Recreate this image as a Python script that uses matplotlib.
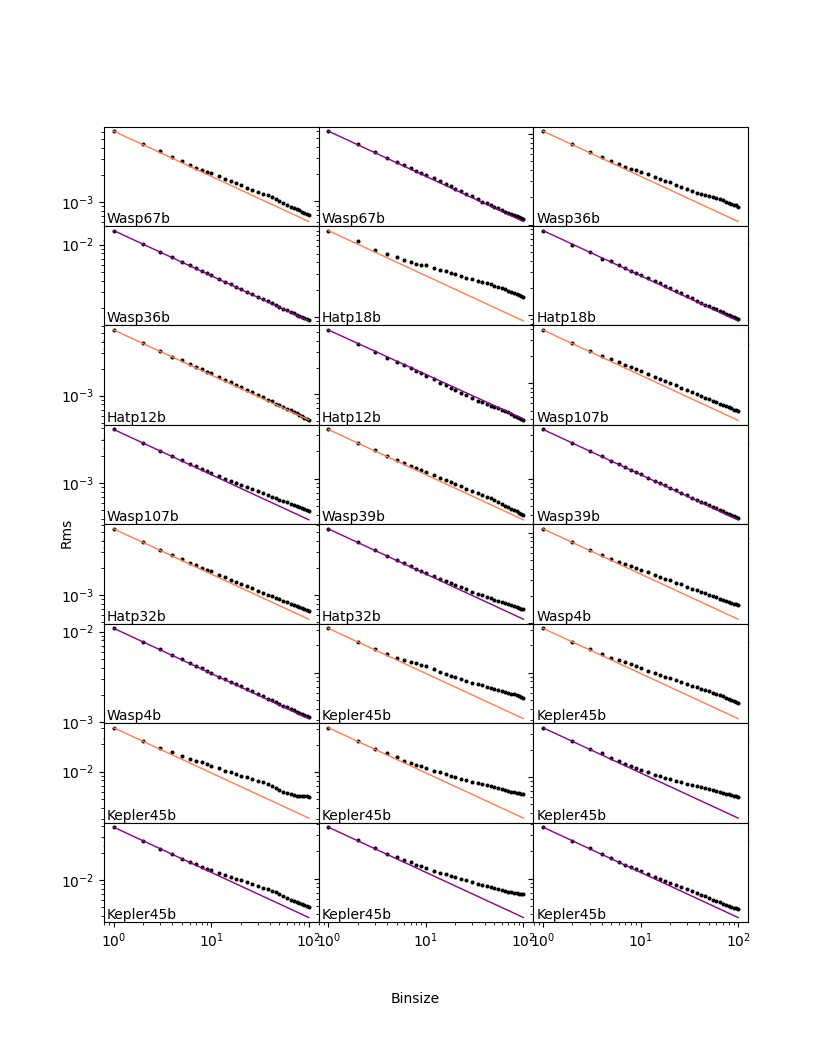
import numpy as np
import matplotlib.pyplot as plt

binsize = [1, 2, 3, 4, 5, 6, 7, 8, 9, 10, 12, 14, 16, 18, 20, 23, 26, 30, 34,
           38, 42, 46, 50, 55, 60, 65, 70, 75, 80, 85, 90, 95, 100]

# measured rms divided by the white-noise expectation (beta), per panel
wasp67b_o = [1.000, 1.021, 1.031, 1.047, 1.047, 1.034, 1.047, 1.058, 1.066, 1.079, 1.093,
             1.113, 1.118, 1.124, 1.127, 1.130, 1.136, 1.150, 1.181, 1.196, 1.196, 1.190,
             1.196, 1.202, 1.190, 1.181, 1.187, 1.178, 1.190, 1.181, 1.184, 1.190, 1.187]
wasp67b_p = [1.000, 1.008, 1.013, 1.018, 1.015, 1.021, 1.026, 1.031, 1.026, 1.034, 1.039,
             1.039, 1.034, 1.042, 1.036, 1.031, 1.026, 1.039, 1.031, 1.026, 1.034, 1.039,
             1.031, 1.042, 1.047, 1.039, 1.052, 1.047, 1.058, 1.052, 1.063, 1.066, 1.068]
wasp36b_o = [1.000, 1.023, 1.015, 1.026, 1.047, 1.047, 1.068, 1.088, 1.104, 1.127, 1.150,
             1.171, 1.193, 1.205, 1.221, 1.230, 1.239, 1.245, 1.264, 1.287, 1.310, 1.337,
             1.364, 1.393, 1.407, 1.421, 1.432, 1.440, 1.447, 1.454, 1.462, 1.466, 1.447]
wasp36b_p = [1.000, 1.008, 1.008, 1.021, 1.013, 1.026, 1.018, 1.015, 1.021, 1.018, 1.015,
             1.021, 1.018, 1.013, 1.021, 1.015, 1.018, 1.013, 1.021, 1.015, 1.018, 1.023,
             1.013, 1.018, 1.015, 1.021, 1.013, 1.018, 1.015, 1.023, 1.013, 1.021, 1.015]
hatp18b_o = [1.000, 1.071, 1.060, 1.093, 1.127, 1.165, 1.196, 1.217, 1.258, 1.300, 1.340,
             1.382, 1.418, 1.447, 1.473, 1.511, 1.542, 1.582, 1.623, 1.657, 1.687, 1.717,
             1.743, 1.770, 1.789, 1.803, 1.812, 1.821, 1.830, 1.839, 1.844, 1.853, 1.858]
hatp18b_p = [1.000, 0.987, 1.000, 0.977, 1.021, 1.013, 1.018, 1.015, 1.026, 1.021, 1.031,
             1.026, 1.039, 1.034, 1.044, 1.039, 1.031, 1.026, 1.034, 1.028, 1.036, 1.031,
             1.039, 1.034, 1.042, 1.036, 1.047, 1.039, 1.050, 1.044, 1.052, 1.047, 1.052]
hatp12b_o = [1.000, 1.013, 1.013, 1.005, 1.026, 1.026, 1.021, 1.031, 1.031, 1.039, 1.039,
             1.047, 1.042, 1.039, 1.047, 1.039, 1.034, 1.042, 1.036, 1.031, 1.039, 1.026,
             1.031, 1.021, 1.031, 1.026, 1.015, 1.021, 1.008, 1.013, 1.000, 1.005, 0.987]
hatp12b_p = [1.000, 0.992, 0.975, 0.970, 0.975, 0.987, 0.980, 0.985, 0.975, 0.970, 0.962,
             0.955, 0.950, 0.945, 0.938, 0.943, 0.936, 0.931, 0.938, 0.945, 0.950, 0.955,
             0.962, 0.975, 0.987, 0.980, 0.992, 0.987, 0.975, 0.970, 0.962, 0.967, 0.962]
wasp107b_o = [1.000, 1.013, 1.026, 1.039, 1.058, 1.074, 1.085, 1.093, 1.104, 1.113, 1.127,
              1.139, 1.147, 1.156, 1.162, 1.168, 1.174, 1.184, 1.193, 1.199, 1.205, 1.211,
              1.214, 1.221, 1.227, 1.230, 1.236, 1.239, 1.245, 1.248, 1.251, 1.258, 1.261]
wasp107b_p = [1.000, 1.000, 1.008, 1.013, 1.021, 1.026, 1.031, 1.039, 1.047, 1.052, 1.060,
              1.068, 1.079, 1.088, 1.093, 1.104, 1.116, 1.130, 1.142, 1.153, 1.162, 1.171,
              1.181, 1.193, 1.205, 1.214, 1.224, 1.233, 1.239, 1.245, 1.251, 1.258, 1.261]
wasp39b_o = [1.000, 1.008, 1.013, 1.026, 1.031, 1.047, 1.052, 1.060, 1.066, 1.074, 1.085,
             1.093, 1.099, 1.107, 1.113, 1.121, 1.130, 1.136, 1.150, 1.165, 1.171, 1.174,
             1.171, 1.165, 1.159, 1.153, 1.150, 1.144, 1.142, 1.142, 1.136, 1.130, 1.136]
wasp39b_p = [1.000, 1.000, 1.005, 1.008, 1.005, 1.010, 1.008, 1.013, 1.010, 1.015, 1.013,
             1.018, 1.013, 1.021, 1.015, 1.021, 1.018, 1.023, 1.026, 1.026, 1.031, 1.028,
             1.034, 1.031, 1.036, 1.039, 1.036, 1.042, 1.044, 1.047, 1.050, 1.055, 1.058]
hatp32b_o = [1.000, 1.008, 1.021, 1.026, 1.034, 1.039, 1.047, 1.052, 1.060, 1.068, 1.079,
             1.088, 1.096, 1.102, 1.107, 1.116, 1.124, 1.136, 1.144, 1.150, 1.159, 1.165,
             1.174, 1.184, 1.193, 1.202, 1.208, 1.214, 1.221, 1.224, 1.227, 1.230, 1.233]
hatp32b_p = [1.000, 1.000, 1.008, 1.005, 1.013, 1.015, 1.021, 1.026, 1.031, 1.034, 1.042,
             1.050, 1.055, 1.063, 1.071, 1.079, 1.090, 1.104, 1.118, 1.133, 1.144, 1.156,
             1.168, 1.184, 1.196, 1.211, 1.224, 1.236, 1.248, 1.258, 1.267, 1.277, 1.283]
wasp4b_o = [1.000, 1.005, 1.013, 1.026, 1.047, 1.066, 1.079, 1.093, 1.107, 1.121, 1.144,
            1.165, 1.181, 1.196, 1.205, 1.221, 1.236, 1.251, 1.267, 1.283, 1.297, 1.310,
            1.324, 1.337, 1.351, 1.364, 1.375, 1.386, 1.400, 1.410, 1.410, 1.421, 1.429]
wasp4b_p = [1.000, 1.005, 1.013, 1.008, 1.015, 1.010, 1.013, 1.018, 1.013, 1.015, 1.010,
            1.021, 1.015, 1.023, 1.026, 1.021, 1.028, 1.023, 1.031, 1.026, 1.034, 1.028,
            1.036, 1.031, 1.039, 1.034, 1.042, 1.036, 1.044, 1.039, 1.042, 1.031, 1.039]
kepler45b_o1 = [1.000, 1.008, 1.018, 1.042, 1.052, 1.088, 1.127, 1.156, 1.174, 1.196, 1.221,
                1.242, 1.258, 1.274, 1.290, 1.317, 1.340, 1.375, 1.410, 1.440, 1.466, 1.488,
                1.511, 1.542, 1.566, 1.590, 1.615, 1.636, 1.657, 1.674, 1.687, 1.700, 1.708]
kepler45b_o2 = [1.000, 1.000, 1.026, 1.044, 1.060, 1.088, 1.116, 1.130, 1.144, 1.159, 1.181,
                1.202, 1.221, 1.236, 1.251, 1.274, 1.297, 1.324, 1.351, 1.375, 1.393, 1.410,
                1.429, 1.443, 1.454, 1.466, 1.473, 1.481, 1.485, 1.488, 1.500, 1.485, 1.496]
kepler45b_o3 = [1.000, 1.018, 1.034, 1.079, 1.099, 1.099, 1.136, 1.174, 1.196, 1.205, 1.233,
                1.258, 1.283, 1.307, 1.324, 1.358, 1.393, 1.421, 1.447, 1.473, 1.481, 1.458,
                1.429, 1.436, 1.451, 1.473, 1.504, 1.530, 1.574, 1.615, 1.657, 1.691, 1.721]
kepler45b_o4 = [1.000, 1.018, 1.018, 1.052, 1.052, 1.060, 1.079, 1.107, 1.127, 1.136, 1.165,
                1.196, 1.227, 1.251, 1.274, 1.307, 1.340, 1.382, 1.421, 1.458, 1.492, 1.523,
                1.550, 1.582, 1.615, 1.644, 1.674, 1.700, 1.730, 1.756, 1.784, 1.807, 1.830]
kepler45b_p1 = [1.000, 1.008, 1.018, 1.052, 1.034, 1.044, 1.060, 1.060, 1.079, 1.088, 1.113,
                1.136, 1.159, 1.187, 1.211, 1.242, 1.274, 1.313, 1.351, 1.386, 1.418, 1.447,
                1.477, 1.504, 1.534, 1.562, 1.590, 1.615, 1.640, 1.665, 1.687, 1.708, 1.721]
kepler45b_p2 = [1.000, 1.000, 0.987, 1.018, 1.000, 1.008, 1.026, 1.034, 1.044, 1.052, 1.074,
                1.093, 1.116, 1.136, 1.156, 1.181, 1.205, 1.227, 1.248, 1.267, 1.283, 1.290,
                1.290, 1.283, 1.277, 1.274, 1.274, 1.277, 1.283, 1.297, 1.307, 1.317, 1.324]
kepler45b_p3 = [1.000, 1.008, 1.013, 1.021, 1.039, 1.071, 1.079, 1.088, 1.107, 1.116, 1.144,
                1.174, 1.205, 1.233, 1.258, 1.290, 1.324, 1.358, 1.386, 1.414, 1.440, 1.466,
                1.492, 1.523, 1.554, 1.586, 1.619, 1.648, 1.683, 1.713, 1.743, 1.775, 1.812]
kepler45b_p4 = [1.000, 1.000, 1.008, 1.005, 1.013, 1.008, 1.021, 1.026, 1.031, 1.034, 1.047,
                1.058, 1.068, 1.079, 1.090, 1.107, 1.121, 1.136, 1.144, 1.150, 1.156, 1.162,
                1.165, 1.171, 1.181, 1.187, 1.193, 1.199, 1.208, 1.217, 1.224, 1.230, 1.236]

names = ['Wasp67b', 'Wasp67b', 'Wasp36b',
         'Wasp36b', 'Hatp18b', 'Hatp18b',
         'Hatp12b', 'Hatp12b', 'Wasp107b',
         'Wasp107b', 'Wasp39b', 'Wasp39b',
         'Hatp32b', 'Hatp32b', 'Wasp4b',
         'Wasp4b', 'Kepler45b', 'Kepler45b',
         'Kepler45b', 'Kepler45b', 'Kepler45b',
         'Kepler45b', 'Kepler45b', 'Kepler45b']
kinds = ['o', 'p', 'o',
         'p', 'o', 'p',
         'o', 'p', 'o',
         'p', 'o', 'p',
         'o', 'p', 'o',
         'p', 'o', 'o',
         'o', 'o', 'p',
         'p', 'p', 'p']
# unbinned rms (binsize 1) of each panel
sigma1 = [6.08e-3, 6.0e-3, 1.08e-2,
          1.43e-2, 9.0e-3, 8.65e-3,
          5.38e-3, 5.3e-3, 3.9e-3,
          3.9e-3, 3.5e-3, 3.5e-3,
          5.42e-3, 5.4e-3, 1.1e-2,
          1.09e-2, 3.1e-2, 3.1e-2,
          3.06e-2, 3.1e-2, 3.5e-2,
          3.85e-2, 3.7e-2, 3.7e-2]
ratios = [wasp67b_o, wasp67b_p, wasp36b_o, wasp36b_p, hatp18b_o, hatp18b_p,
          hatp12b_o, hatp12b_p, wasp107b_o, wasp107b_p, wasp39b_o, wasp39b_p,
          hatp32b_o, hatp32b_p, wasp4b_o, wasp4b_p, kepler45b_o1, kepler45b_o2,
          kepler45b_o3, kepler45b_o4, kepler45b_p1, kepler45b_p2, kepler45b_p3, kepler45b_p4]

line_colors = {'o': 'coral', 'p': 'darkmagenta'}

fig, axes = plt.subplots(8, 3, figsize=(8.31, 10.55), dpi=100)
fig.subplots_adjust(left=0.125, right=0.9, top=0.88, bottom=0.126, wspace=0, hspace=0)

bins = np.array(binsize, dtype=float)
ends = bins[[0, -1]]
for i, ax in enumerate(axes.flat):
    s1 = sigma1[i]
    rms = s1 / np.sqrt(bins) * np.array(ratios[i])
    ax.plot(bins, rms, 'k.', ms=3.8)
    ax.plot(ends, s1 / np.sqrt(ends), color=line_colors[kinds[i]], lw=1)
    ax.set_xscale('log')
    ax.set_yscale('log')
    ax.text(0.014, 0.03, names[i], transform=ax.transAxes, fontsize=10)
    if i % 3:
        ax.tick_params(axis='y', which='both', labelleft=False)

fig.text(0.5, 0.0496, 'Binsize', ha='center')
fig.text(0.0806, 0.4948, 'Rms', rotation=90, ha='center', va='center')

fig.savefig('out.png', dpi=100)
